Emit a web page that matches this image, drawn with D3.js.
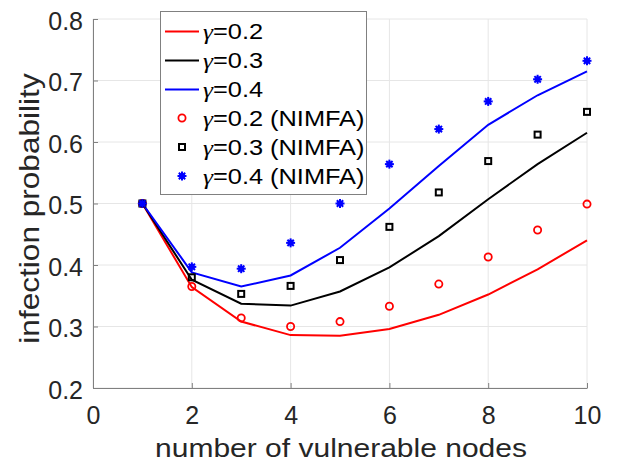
<!DOCTYPE html>
<html><head><meta charset="utf-8">
<script src="https://cdn.jsdelivr.net/npm/d3@7"></script>
<style>body{margin:0;background:#fff;} svg{display:block;font-family:"Liberation Sans",Arial,sans-serif;}</style>
</head><body>
<svg id="c" width="619" height="463"></svg>
<script>
const nodes = [1,2,3,4,5,6,7,8,9,10];
const sim02 = [0.5,0.364,0.308,0.286,0.285,0.296,0.319,0.352,0.393,0.44];
const sim03 = [0.5,0.376,0.337,0.334,0.357,0.396,0.447,0.507,0.564,0.615];
const sim04 = [0.5,0.388,0.365,0.383,0.428,0.492,0.561,0.628,0.676,0.715];
const nimfa02 = [0.5,0.365,0.314,0.300,0.308,0.333,0.369,0.413,0.457,0.499];
const nimfa03 = [0.5,0.380,0.353,0.366,0.408,0.462,0.518,0.569,0.612,0.649];
const nimfa04 = [0.5,0.397,0.394,0.436,0.500,0.564,0.621,0.666,0.702,0.732];
const xTicks = [0,2,4,6,8,10];
const yTicks = [0.2,0.3,0.4,0.5,0.6,0.7,0.8];
const legendLabels = ["0.2","0.3","0.4","0.2 (NIMFA)","0.3 (NIMFA)","0.4 (NIMFA)"];

const svg = d3.select("#c");
const x = d3.scaleLinear().domain([0,10]).range([93,587]);
const y = d3.scaleLinear().domain([0.2,0.8]).range([388,19]);

// grid
svg.append("g").selectAll("line").data(xTicks).join("line")
  .attr("x1",d=>x(d)).attr("x2",d=>x(d)).attr("y1",y(0.2)).attr("y2",y(0.8))
  .attr("stroke","#e6e6e6").attr("stroke-width",1);
svg.append("g").selectAll("line").data(yTicks).join("line")
  .attr("x1",x(0)).attr("x2",x(10)).attr("y1",d=>y(d)).attr("y2",d=>y(d))
  .attr("stroke","#e6e6e6").attr("stroke-width",1);

// axes
const xAxis = d3.axisBottom(x).tickValues(xTicks).tickSizeInner(-5).tickSizeOuter(0).tickPadding(18).tickFormat(d3.format("d"));
const yAxis = d3.axisLeft(y).tickValues(yTicks).tickSizeInner(-5).tickSizeOuter(0).tickPadding(10).tickFormat(d3.format(".1f"));
const gx = svg.append("g").attr("transform",`translate(0,${y(0.2)})`).call(xAxis);
const gy = svg.append("g").attr("transform",`translate(${x(0)},0)`).call(yAxis);
[gx,gy].forEach(g=>{
  g.select(".domain").attr("stroke","#808080").attr("stroke-width",1);
  g.selectAll(".tick line").attr("stroke","#808080");
  g.selectAll(".tick text").attr("fill","#262626").attr("font-size",25).attr("font-family","Liberation Sans, Arial, sans-serif");
});
gx.selectAll(".tick text").attr("y",18).attr("dy","0.71em");
gy.selectAll(".tick text").attr("dy","0.4em");

// labels
svg.append("text").attr("transform",`translate(${(x(0)+x(10))/2+1},456.5) scale(1.2,1)`).attr("text-anchor","middle")
  .attr("font-size",25).attr("fill","#262626").text("number of vulnerable nodes");
svg.append("text").attr("transform",`translate(39,208.5) rotate(-90) scale(1.17,1)`).attr("text-anchor","middle")
  .attr("font-size",27).attr("fill","#262626").text("infection probability");

// lines
const line = d3.line().x((d,i)=>x(nodes[i])).y(d=>y(d));
const sims = [[sim02,"#ff0000"],[sim03,"#000000"],[sim04,"#0000ff"]];
sims.forEach(([s,c])=>{
  svg.append("path").datum(s).attr("d",line).attr("fill","none").attr("stroke",c).attr("stroke-width",2);
});

// markers
function circle(g,cx,cy){ g.append("circle").attr("cx",cx).attr("cy",cy).attr("r",3.6).attr("fill","none").attr("stroke","#ff0000").attr("stroke-width",1.8); }
function square(g,cx,cy){ g.append("rect").attr("x",cx-3).attr("y",cy-3).attr("width",6).attr("height",6).attr("fill","none").attr("stroke","#000").attr("stroke-width",2); }
function star(g,cx,cy){
  const r=4.5;
  for(let k=0;k<4;k++){
    const a=k*Math.PI/4;
    g.append("line").attr("x1",cx-r*Math.cos(a)).attr("y1",cy-r*Math.sin(a)).attr("x2",cx+r*Math.cos(a)).attr("y2",cy+r*Math.sin(a))
      .attr("stroke","#0000ff").attr("stroke-width",2);
  }
  g.append("circle").attr("cx",cx).attr("cy",cy).attr("r",3).attr("fill","#0000ff");
}
const mg = svg.append("g");
nimfa02.forEach((v,i)=>circle(mg,x(nodes[i]),y(v)));
nimfa03.forEach((v,i)=>square(mg,x(nodes[i]),y(v)));
nimfa04.forEach((v,i)=>star(mg,x(nodes[i]),y(v)));

// legend
const lg = svg.append("g");
lg.append("rect").attr("x",160.5).attr("y",11.5).attr("width",206).attr("height",183).attr("fill","#fff").attr("stroke","#808080").attr("stroke-width",1);
const rowsY = [31.5,60.5,89.5,118,147,176];
const legColors = ["#ff0000","#000000","#0000ff","#ff0000","#000000","#0000ff"];
legendLabels.forEach((lab,i)=>{
  const cy = rowsY[i];
  if(i<3){
    lg.append("line").attr("x1",165).attr("x2",199).attr("y1",cy).attr("y2",cy).attr("stroke",legColors[i]).attr("stroke-width",2);
  } else if(i===3) circle(lg,182,cy);
  else if(i===4) square(lg,182,cy);
  else star(lg,182,cy);
  const t = lg.append("text").attr("transform",`translate(203,${cy}) scale(1.18,1)`).attr("dy","0.36em").attr("font-size",21.5)
    .attr("fill","#000");
  t.append("tspan").attr("font-family","Liberation Serif, Times New Roman, serif").attr("font-style","italic").text("γ");
  t.append("tspan").text("=" + lab);
});
</script>
</body></html>
